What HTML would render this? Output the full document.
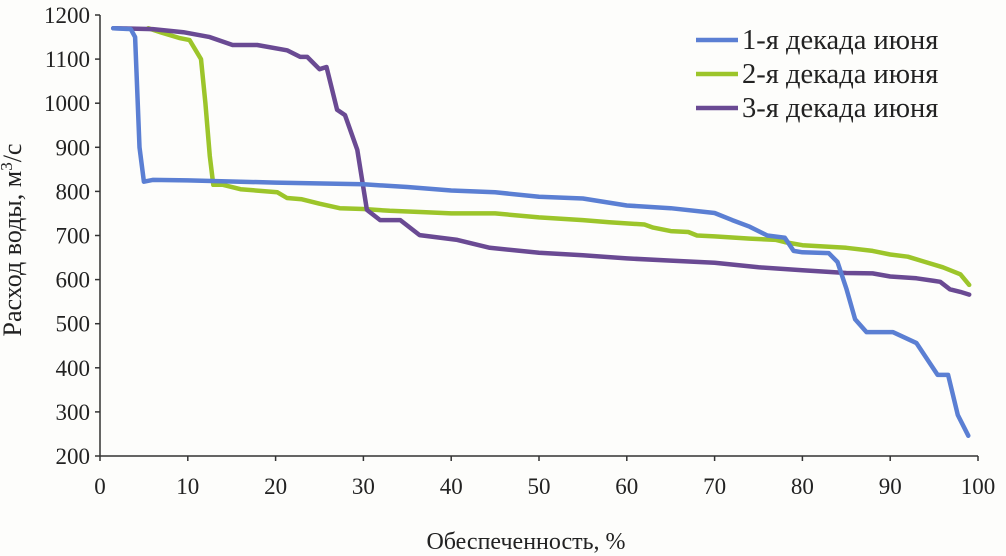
<!DOCTYPE html>
<html><head><meta charset="utf-8"><style>
html,body{margin:0;padding:0;background:#fdfdfb;}
svg{display:block;font-family:"Liberation Serif",serif;}
</style></head><body>
<svg id="chart" width="1006" height="556" viewBox="0 0 1006 556">
<g id="axes"></g>
<g id="series"></g>
<g id="legend"></g>
<text x="21" y="240" font-size="26" text-anchor="middle" transform="rotate(-90 21 240)" fill="#222">Расход воды, м<tspan font-size="17" dy="-9">3</tspan><tspan dy="9">/с</tspan></text>
<text x="526" y="549" font-size="24" text-anchor="middle" fill="#222">Обеспеченность, %</text>
</svg>
<script>
const xTicks=[0,10,20,30,40,50,60,70,80,90,100];
const yTicks=[200,300,400,500,600,700,800,900,1000,1100,1200];
const seriesNames=["1-я декада июня","2-я декада июня","3-я декада июня"];
const seriesColors=["#5b7fd3","#9cc52a","#6a4a93"];
const blueX=[1.5,3.5,4,4.5,5,6,10,20,30,35,40,45,50,55,60,65,70,72,74,76,78,79,80,83,84,85,86,87.3,90.3,93,95.4,96.6,97.7,98.9];
const blueY=[1170,1168,1150,900,822,826,825,820,816,810,802,798,788,784,768,762,751,735,720,700,695,665,662,660,640,580,510,481,481,456,384,384,293,246];
const greenX=[5.5,7,9,10.2,11.5,12,12.5,12.9,14,16,20.2,21.3,23,25,27.3,30,33,36.8,40,45,50,55,58,62,63,65,67,68,70,74,77,78,80,85,88,90,92,94,96,98,99];
const greenY=[1170,1160,1148,1143,1100,1000,880,815,815,805,798,785,782,772,762,760,756,753,750,750,741,735,730,725,718,710,708,700,698,693,690,685,678,672,665,657,652,640,628,612,588];
const purpleX=[1.5,6,9.5,12.5,15.1,17.9,21.3,22.8,23.6,25,25.8,27,27.9,29.3,30.4,31.9,34.2,36.4,40.7,44.4,50,55,60,65,70,75,80,85,88,90,93,95,95.7,96.8,98,99];
const purpleY=[1170,1168,1161,1150,1132,1132,1120,1105,1105,1077,1082,985,973,894,758,735,735,701,690,672,661,655,648,643,638,628,621,615,614,607,603,597,595,578,572,566];
const xs=[blueX,greenX,purpleX], ys=[blueY,greenY,purpleY];
const NS="http://www.w3.org/2000/svg";
const X0=100,X1=978,Y0=456,Y1=15;
const sx=v=>X0+(v-0)/(100-0)*(X1-X0);
const sy=v=>Y0-(v-200)/(1200-200)*(Y0-Y1);
function mk(tag,attrs,parent){const e=document.createElementNS(NS,tag);for(const k in attrs)e.setAttribute(k,attrs[k]);parent.appendChild(e);return e;}
const axes=document.getElementById('axes');
let ya=mk('line',{x1:X0,y1:Y1,x2:X0,y2:Y0,stroke:'#333','stroke-width':1.5},axes);


let xa=mk('line',{x1:X0,y1:Y0,x2:X1,y2:Y0,stroke:'#333','stroke-width':1.5},axes);


yTicks.forEach(t=>{
 const tk=mk('line',{x1:X0-5,y1:sy(t),x2:X0,y2:sy(t),stroke:'#333','stroke-width':1.5},axes);
 
 
 const tl=mk('text',{x:X0-10,y:sy(t)+8,'font-size':23,'text-anchor':'end',fill:'#222'},axes);
 tl.textContent=t;
 
 
});
xTicks.forEach(t=>{
 const tk=mk('line',{x1:sx(t),y1:Y0,x2:sx(t),y2:Y0+5,stroke:'#333','stroke-width':1.5},axes);
 
 
 const tl=mk('text',{x:sx(t),y:Y0+38,'font-size':23,'text-anchor':'middle',fill:'#222'},axes);
 tl.textContent=t;
 
 
});
const sg=document.getElementById('series');
[1,2,0].forEach(i=>{
 const pts=xs[i].map((v,j)=>sx(v).toFixed(1)+','+sy(ys[i][j]).toFixed(1)).join(' ');
 const pl=mk('polyline',{points:pts,fill:'none',stroke:seriesColors[i],'stroke-width':4.5,'stroke-linejoin':'round','stroke-linecap':'round'},sg);
 
 
});
const lg=document.getElementById('legend');
seriesNames.forEach((n,i)=>{
 const y=40+i*34;
 const ln=mk('line',{x1:696,y1:y,x2:738,y2:y,stroke:seriesColors[i],'stroke-width':4.5},lg);
 
 
 const tx=mk('text',{x:742,y:y+9,'font-size':28.5,fill:'#222'},lg);
 tx.textContent=n;
 
 
});
</script>
</body></html>
